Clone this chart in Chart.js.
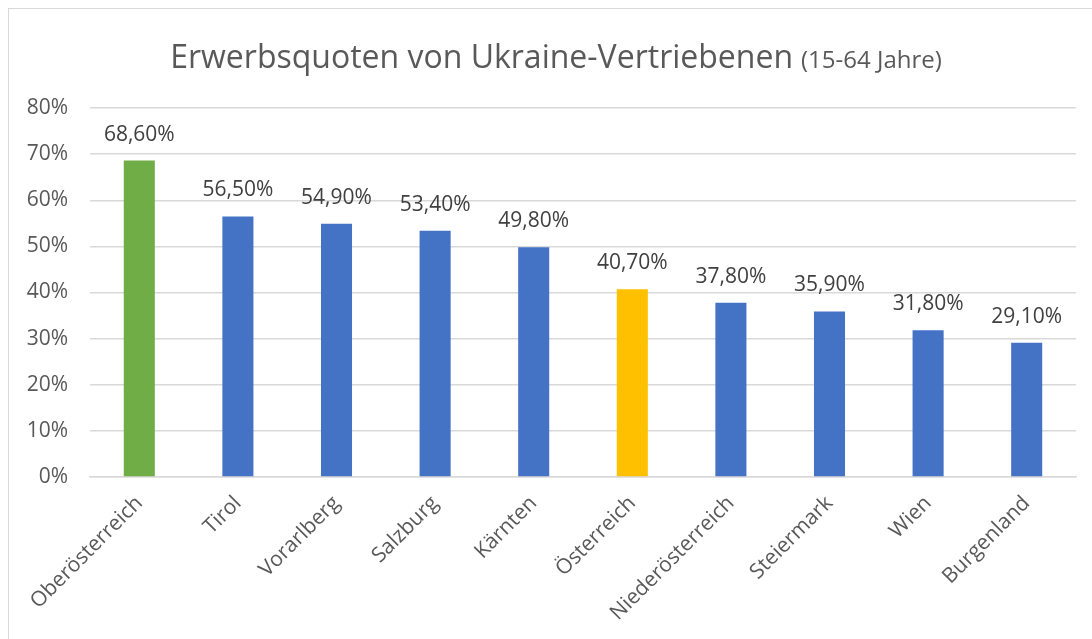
<!DOCTYPE html>
<html>
<head>
<meta charset="utf-8">
<script src="https://cdn.jsdelivr.net/npm/chart.js@4/dist/chart.umd.min.js"></script>
<style>
  html, body { margin: 0; padding: 0; background: #fff; overflow: hidden; }
  #frame { position: absolute; left: 8px; top: 8px; width: 1200px; height: 800px; border: 1px solid #d9d9d9; }
  #wrap { position: absolute; left: 0; top: 0; width: 1092px; height: 639px; }
</style>
</head>
<body>
<div id="frame"></div>
<div id="wrap"><canvas id="quotaChart"></canvas></div>
<script>
  // === Data ===
  const regions = ['Oberösterreich', 'Tirol', 'Vorarlberg', 'Salzburg', 'Kärnten',
                   'Österreich', 'Niederösterreich', 'Steiermark', 'Wien', 'Burgenland'];
  const quotas = [68.6, 56.5, 54.9, 53.4, 49.8, 40.7, 37.8, 35.9, 31.8, 29.1];
  const yTicks = [0, 10, 20, 30, 40, 50, 60, 70, 80];

  const titleMain = 'Erwerbsquoten von Ukraine-Vertriebenen';
  const titleSub = '(15-64 Jahre)';

  // === Styling ===
  const FONT = "'Open Sans', sans-serif";
  const TEXT = '#595959';
  const GRID = '#d9d9d9';
  const BLUE = '#4472C4';
  const specialColors = { 'Oberösterreich': '#70AD47', 'Österreich': '#FFC000' };
  const barColors = regions.map(r => specialColors[r] || BLUE);

  // title with two font sizes, drawn by hand
  const titlePlugin = {
    id: 'twoPartTitle',
    afterDraw(chart) {
      const ctx = chart.ctx;
      ctx.save();
      ctx.fillStyle = TEXT;
      ctx.textBaseline = 'alphabetic';
      ctx.font = '32px ' + FONT;
      const wMain = ctx.measureText(titleMain).width;
      ctx.font = '24px ' + FONT;
      const wSub = ctx.measureText(titleSub).width;
      const gap = 8;
      let x = chart.width / 2 + 10 - (wMain + gap + wSub) / 2;
      const y = 68;
      ctx.textAlign = 'left';
      ctx.font = '32px ' + FONT;
      ctx.fillText(titleMain, x, y);
      x += wMain + gap;
      ctx.font = '24px ' + FONT;
      ctx.fillText(titleSub, x, y);
      ctx.restore();
    }
  };

  // value labels above bars, German decimal comma
  const valueLabels = {
    id: 'valueLabels',
    afterDatasetsDraw(chart) {
      const ctx = chart.ctx;
      const meta = chart.getDatasetMeta(0);
      ctx.save();
      ctx.font = '21px ' + FONT;
      ctx.fillStyle = '#404040';
      ctx.textAlign = 'center';
      ctx.textBaseline = 'middle';
      meta.data.forEach((bar, i) => {
        const v = chart.data.datasets[0].data[i];
        ctx.fillText(v.toFixed(2).replace('.', ',') + '%', bar.x, bar.y - 26);
      });
      ctx.restore();
    }
  };

  const quotaChart = document.getElementById('quotaChart');
  if (quotaChart) {
    new Chart(quotaChart, {
      type: 'bar',
      data: {
        labels: regions,
        datasets: [{
          data: quotas,
          backgroundColor: barColors,
          barPercentage: 0.315,
          categoryPercentage: 1
        }]
      },
      options: {
        responsive: true,
        maintainAspectRatio: false,
        animation: false,
        layout: { padding: { top: 108, right: 16, bottom: 0, left: 0 } },
        plugins: {
          legend: { display: false },
          tooltip: { enabled: false },
          title: { display: false }
        },
        scales: {
          y: {
            min: 0,
            max: 80,
            afterFit(scale) { scale.width = 90; },
            afterBuildTicks(scale) { scale.ticks = yTicks.map(v => ({ value: v })); },
            ticks: {
              callback: v => v + '%',
              color: TEXT,
              font: { family: FONT, size: 21 },
              padding: 22
            },
            grid: { color: GRID, lineWidth: 1.5, drawTicks: false },
            border: { display: false }
          },
          x: {
            afterFit(scale) { scale.height = 162; },
            ticks: {
              color: TEXT,
              font: { family: FONT, size: 21 },
              maxRotation: 45,
              minRotation: 45,
              padding: 14,
              autoSkip: false
            },
            grid: { display: false, drawTicks: false },
            border: { display: true, color: GRID, width: 1.5 }
          }
        }
      },
      plugins: [titlePlugin, valueLabels]
    });
  }
</script>
</body>
</html>
